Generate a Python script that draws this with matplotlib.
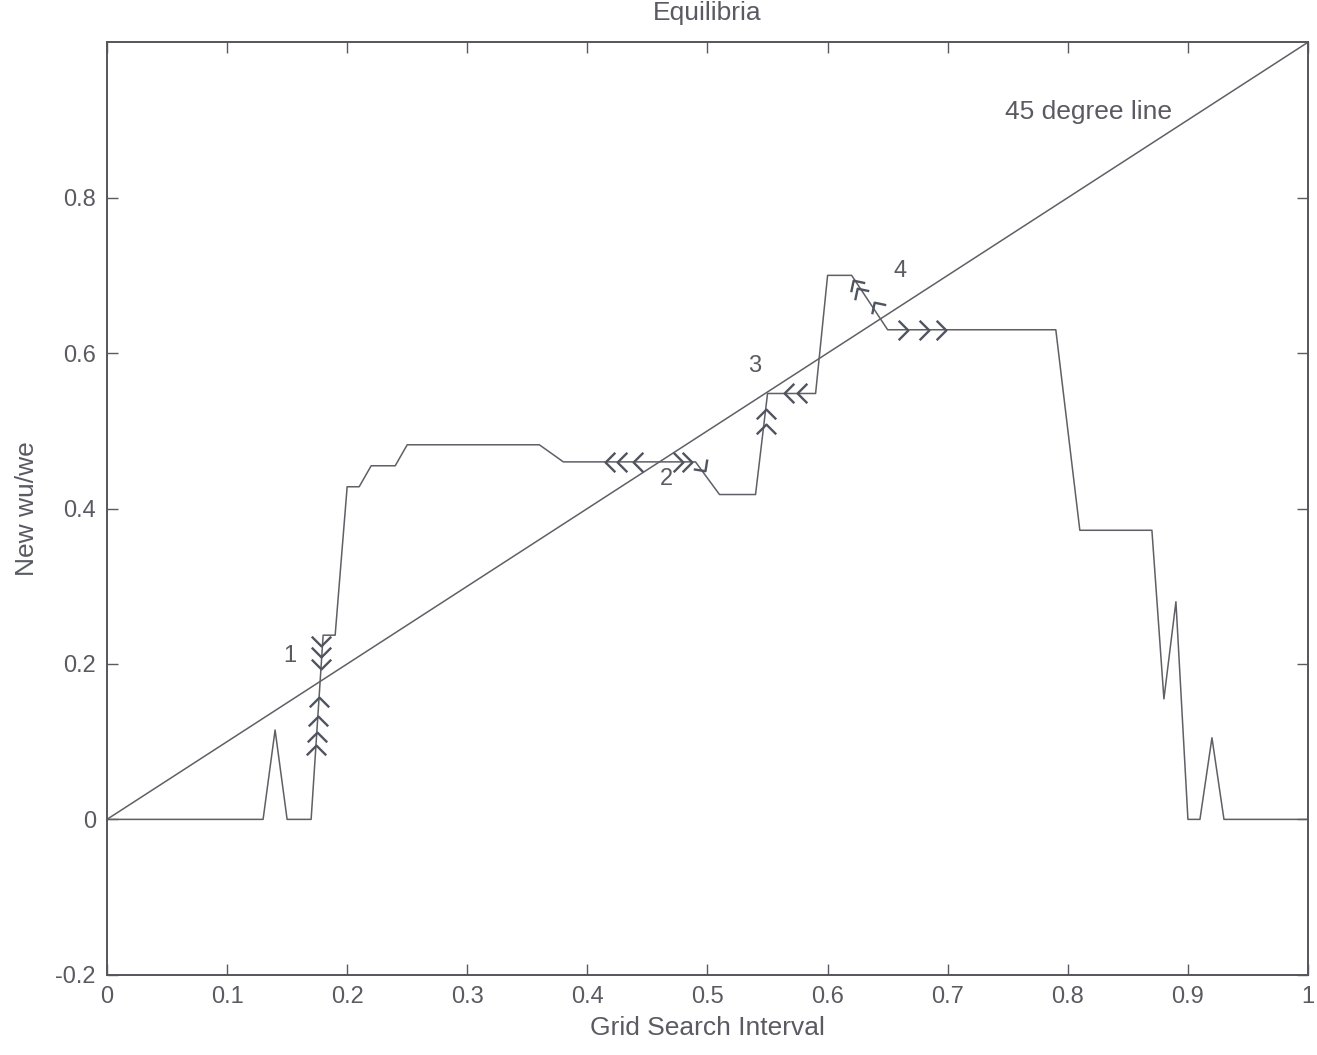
import numpy as np
import matplotlib
matplotlib.use("Agg")
import matplotlib.pyplot as plt
from matplotlib.path import Path

plt.rcParams['font.family'] = ['Liberation Sans', 'DejaVu Sans']

# best response curve
grid_x = [0, 0.13, 0.14, 0.15, 0.17, 0.18, 0.19, 0.20, 0.21, 0.22, 0.24, 0.25,
          0.36, 0.38, 0.49, 0.51, 0.54, 0.55, 0.59, 0.60, 0.62, 0.65, 0.79,
          0.81, 0.87, 0.88, 0.89, 0.90, 0.91, 0.92, 0.93, 1.0]
new_ratio = [0, 0, 0.115, 0, 0, 0.237, 0.237, 0.428, 0.428, 0.455, 0.455, 0.482,
             0.482, 0.46, 0.46, 0.418, 0.418, 0.548, 0.548, 0.70, 0.70, 0.63, 0.63,
             0.372, 0.372, 0.155, 0.28, 0, 0, 0.105, 0, 0]

# direction chevrons: (x, y, angle in degrees, 0 = pointing up)
arrow_x = [0.178, 0.178, 0.178,
           0.1765, 0.1755, 0.1745, 0.1738,
           0.418, 0.428, 0.441,
           0.476, 0.484, 0.496,
           0.5485, 0.5485,
           0.567, 0.578,
           0.623, 0.626, 0.640,
           0.664, 0.681, 0.695]
arrow_y = [0.228, 0.214, 0.199,
           0.152, 0.128, 0.107, 0.09,
           0.46, 0.46, 0.46,
           0.46, 0.46, 0.452,
           0.503, 0.523,
           0.549, 0.549,
           0.690, 0.680, 0.662,
           0.63, 0.63, 0.63]
arrow_ang = [180, 180, 180,
             0, 0, 0, 0,
             90, 90, 90,
             -90, -90, -144,
             0, 0,
             90, 90,
             33, 33, 33,
             -90, -90, -90]

eq_labels = ['1', '2', '3', '4']
eq_x = [0.152, 0.466, 0.539, 0.660]
eq_y = [0.210, 0.438, 0.583, 0.705]

xticks = np.arange(0, 1.01, 0.1)
yticks = [-0.2, 0, 0.2, 0.4, 0.6, 0.8]

line_col = '#5f5f66'
text_col = '#5a5a62'


def chevron(angle):
    v = np.array([[-0.5, -0.3], [0.0, 0.2], [0.5, -0.3]])
    a = np.deg2rad(angle)
    rot = np.array([[np.cos(a), -np.sin(a)], [np.sin(a), np.cos(a)]])
    v = v @ rot.T
    return Path(v, [Path.MOVETO, Path.LINETO, Path.LINETO])


fig = plt.figure(figsize=(13.17, 10.55), dpi=100)
ax = fig.add_axes([0.0812, 0.076, 0.912, 0.884])

ax.plot([0, 1], [0, 1], color=line_col, lw=1.1)
ax.plot(grid_x, new_ratio, color=line_col, lw=1.1)

for x, y, ang in zip(arrow_x, arrow_y, arrow_ang):
    ax.plot(x, y, marker=chevron(ang), markersize=14, color='#4f5560',
            markerfacecolor='none', mew=1.7, linestyle='none')

for lab, x, y in zip(eq_labels, eq_x, eq_y):
    ax.text(x, y, lab, fontsize=17, color=text_col, ha='center', va='center')

ax.text(0.748, 0.91, '45 degree line', fontsize=19, color=text_col,
        ha='left', va='center')

ax.set_xlim(0, 1)
ax.set_ylim(-0.2, 1.0)
ax.set_xticks(xticks)
ax.set_xticklabels(['0', '0.1', '0.2', '0.3', '0.4', '0.5', '0.6', '0.7', '0.8', '0.9', '1'])
ax.set_yticks(yticks)
ax.set_yticklabels(['-0.2', '0', '0.2', '0.4', '0.6', '0.8'])
ax.tick_params(direction='in', length=8, width=1, colors=text_col, labelsize=17,
               top=True, right=True, pad=8)
for s in ax.spines.values():
    s.set_color('#55555c')
    s.set_linewidth(1.4)

ax.set_xlabel('Grid Search Interval', fontsize=19, color=text_col, labelpad=6)
ax.set_ylabel('New wu/we', fontsize=19, color=text_col, labelpad=12)
ax.set_title('Equilibria', fontsize=19, color=text_col, pad=16)

fig.savefig('out.png', dpi=100)
